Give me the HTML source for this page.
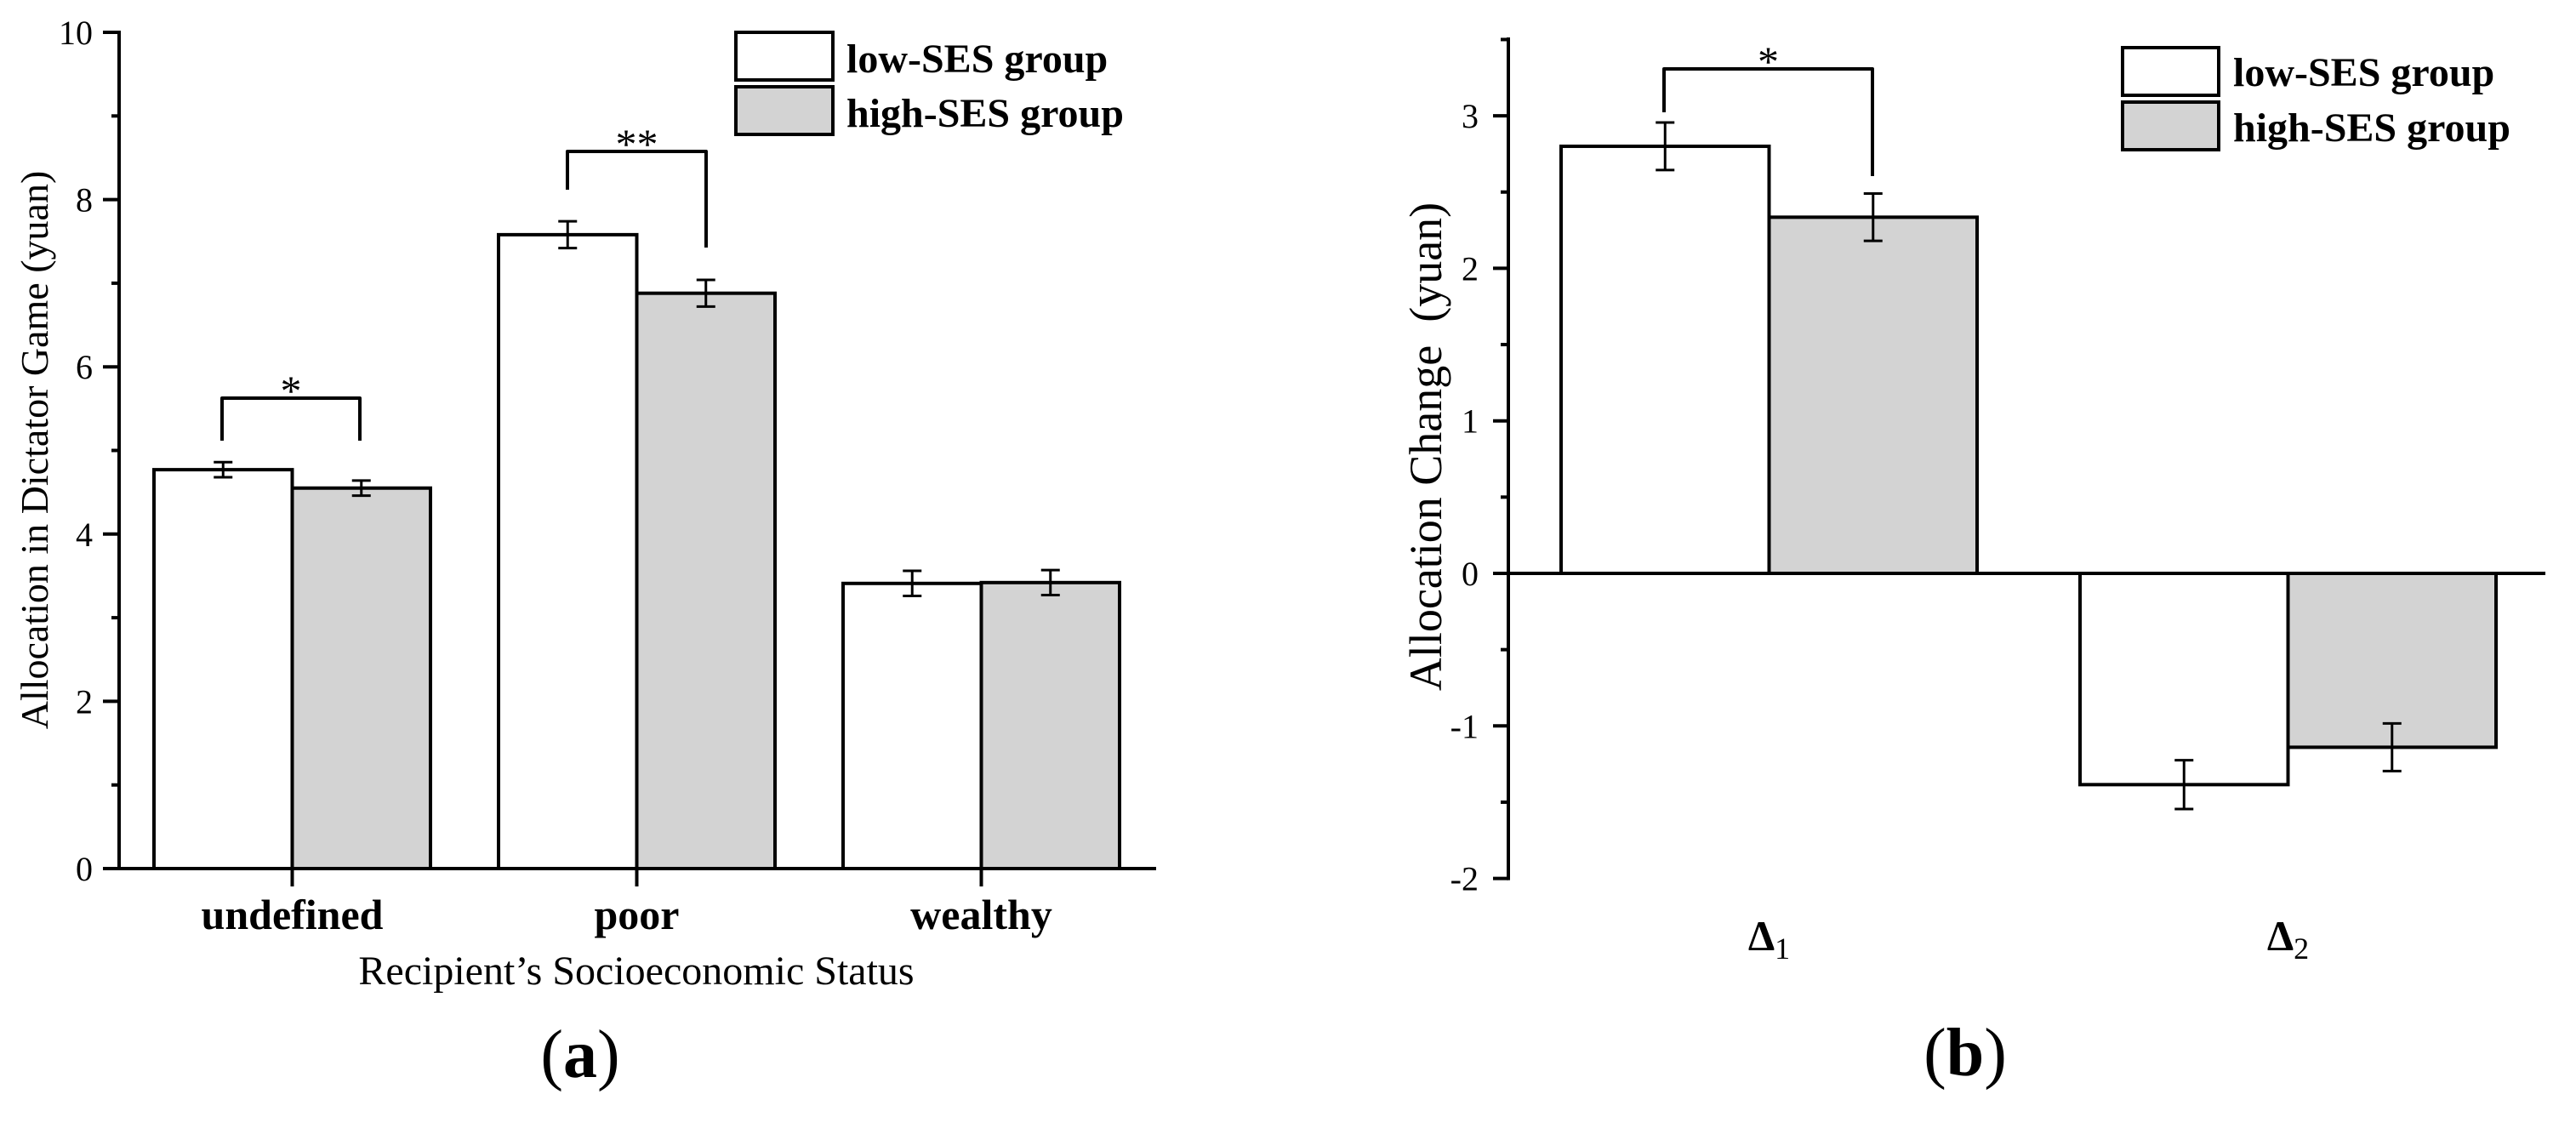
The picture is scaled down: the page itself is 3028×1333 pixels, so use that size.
<!DOCTYPE html>
<html><head><meta charset="utf-8"><style>
html,body{margin:0;padding:0;background:#fff;}
svg{display:block;font-family:"Liberation Serif",serif;}
</style></head><body>
<svg id="fig" width="3028" height="1333" viewBox="0 0 3028 1333"></svg>
<script>
// Panel (a) data
const catsA = ["undefined", "poor", "wealthy"];
const lowA = [4.77, 7.58, 3.41];
const highA = [4.55, 6.88, 3.42];
const lowErrA = [0.09, 0.16, 0.15];
const highErrA = [0.09, 0.16, 0.15];
const ticksA = [0, 2, 4, 6, 8, 10];
// Panel (b) data
const catsB = ["1", "2"];
const lowB = [2.80, -1.385];
const highB = [2.335, -1.14];
const lowErrB = [0.156, 0.16];
const highErrB = [0.155, 0.156];
const ticksB = [-2, -1, 0, 1, 2, 3];

const NS = "http://www.w3.org/2000/svg";
const svg = document.getElementById("fig");
function mk(tag, attrs, parent) {
  const e = document.createElementNS(NS, tag);
  for (const k in attrs) e.setAttribute(k, attrs[k]);
  (parent || svg).appendChild(e);
  return e;
}
function line(x1, y1, x2, y2, w, name, p) {
  const l = mk("line", {x1, y1, x2, y2, stroke: "#000", "stroke-width": w}, p);
  
  
  return l;
}
function text(x, y, s, size, weight, anchor, name, p) {
  const t = mk("text", {x, y, "font-size": size, "font-weight": weight, "text-anchor": anchor, fill: "#000"}, p);
  t.textContent = s;
  
  
  return t;
}

// ---------- Panel A ----------
const gA = mk("g", {});


const yA = v => 1021 - v * 98.3;
const groupX = i => 181 + i * 405;
const barWA = 162.5;
for (let v = 1; v < 10; v += 2) line(131, yA(v), 140, yA(v), 4, "y-minor-tick-a", gA);
ticksA.forEach(v => {
  line(121, yA(v), 140, yA(v), 4, "y-major-tick-a", gA);
  text(109, yA(v) + 14, String(v), 40, "normal", "end", "y-tick-label-a", gA);
});
catsA.forEach((c, i) => {
  const x0 = groupX(i);
  const r1 = mk("rect", {x: x0, y: yA(lowA[i]), width: barWA, height: yA(0) - yA(lowA[i]), fill: "#fff", stroke: "#000", "stroke-width": 4}, gA);
  
  
  const r2 = mk("rect", {x: x0 + barWA, y: yA(highA[i]), width: barWA, height: yA(0) - yA(highA[i]), fill: "#d3d3d3", stroke: "#000", "stroke-width": 4}, gA);
  
  
  [[x0 + barWA / 2, lowA[i], lowErrA[i]], [x0 + barWA * 1.5, highA[i], highErrA[i]]].forEach(([cx, v, e]) => {
    line(cx, yA(v + e), cx, yA(v - e), 3, "error-bar", gA);
    line(cx - 11, yA(v + e), cx + 11, yA(v + e), 3, "error-cap", gA);
    line(cx - 11, yA(v - e), cx + 11, yA(v - e), 3, "error-cap", gA);
  });
  line(x0 + barWA, yA(0), x0 + barWA, yA(0) + 21, 4, "x-tick-a", gA);
  text(x0 + barWA, 1092, c, 50, "bold", "middle", "x-category-label", gA);
});
line(140, 36, 140, 1023, 4, "y-axis-a", gA);
line(138, 1021, 1359, 1021, 4, "x-axis-a", gA);
function bracket(g, x1, x2, top, b1, b2, stars, sy, name) {
  const p = mk("path", {d: `M${x1},${b1} L${x1},${top} L${x2},${top} L${x2},${b2}`, fill: "none", stroke: "#000", "stroke-width": 4, "stroke-linejoin": "round"}, g);
  
  
  text((x1 + x2) / 2, sy, stars, 50, "normal", "middle", "significance-stars", g);
}
bracket(gA, 261, 423, 468, 518, 518, "*", 476, "bracket-undefined");
bracket(gA, 667, 830, 178, 223, 291, "**", 186, "bracket-poor");
function legend(g, x, y1, y2, w, h, tx, b1, b2) {
  const a = mk("rect", {x, y: y1, width: w, height: h, fill: "#fff", stroke: "#000", "stroke-width": 4}, g);
  
  
  const b = mk("rect", {x, y: y2, width: w, height: h, fill: "#d3d3d3", stroke: "#000", "stroke-width": 4}, g);
  
  
  text(tx, b1, "low-SES group", 48, "bold", "start", "legend-entry-low", g);
  text(tx, b2, "high-SES group", 48, "bold", "start", "legend-entry-high", g);
}
legend(gA, 865, 38, 102, 114, 56, 995, 85, 149);
const ytA = text(0, 0, "Allocation in Dictator Game (yuan)", 46, "normal", "middle", "y-axis-title-a", gA);
ytA.setAttribute("transform", "translate(56,529) rotate(-90)");
text(748, 1157, "Recipient\u2019s Socioeconomic Status", 48, "normal", "middle", "x-axis-title-a", gA);
const la = text(682, 1266, "", 80, "normal", "middle", "panel-label-a", gA);
la.innerHTML = '(<tspan font-weight="bold">a</tspan>)';

// ---------- Panel B ----------
const gB = mk("g", {});


const yB = v => 674 - v * 179.3;
const groupXB = i => 1835 + i * 610;
const barWB = 244.5;
for (let v = -1.5; v <= 3.5; v += 1) line(1764, yB(v), 1773, yB(v), 4, "y-minor-tick-b", gB);
ticksB.forEach(v => {
  line(1755, yB(v), 1773, yB(v), 4, "y-major-tick-b", gB);
  text(1738, yB(v) + 14, String(v), 40, "normal", "end", "y-tick-label-b", gB);
});
catsB.forEach((c, i) => {
  const x0 = groupXB(i);
  const v1 = lowB[i], v2 = highB[i];
  const r1 = mk("rect", {x: x0, y: Math.min(yB(v1), yB(0)), width: barWB, height: Math.abs(yB(0) - yB(v1)), fill: "#fff", stroke: "#000", "stroke-width": 4}, gB);
  
  
  const r2 = mk("rect", {x: x0 + barWB, y: Math.min(yB(v2), yB(0)), width: barWB, height: Math.abs(yB(0) - yB(v2)), fill: "#d3d3d3", stroke: "#000", "stroke-width": 4}, gB);
  
  
  [[x0 + barWB / 2, v1, lowErrB[i]], [x0 + barWB * 1.5, v2, highErrB[i]]].forEach(([cx, v, e]) => {
    line(cx, yB(v + e), cx, yB(v - e), 3, "error-bar", gB);
    line(cx - 11, yB(v + e), cx + 11, yB(v + e), 3, "error-cap", gB);
    line(cx - 11, yB(v - e), cx + 11, yB(v - e), 3, "error-cap", gB);
  });
  const t = text(x0 + barWB, 1117, "", 50, "bold", "middle", "x-category-label", gB);
  t.innerHTML = '\u0394<tspan font-weight="normal" font-size="36" dy="10">' + c + '</tspan>';
});
line(1773, 44, 1773, yB(-2) + 2, 4, "y-axis-b", gB);
line(1771, yB(0), 2992, yB(0), 4, "zero-line-b", gB);
bracket(gB, 1956, 2201, 81, 132, 207, "*", 89, "bracket-delta1");
legend(gB, 2495, 56, 120, 113, 56, 2625, 101, 166);
const ytB = text(0, 0, "Allocation Change\u00a0\u00a0(yuan)", 54, "normal", "middle", "y-axis-title-b", gB);
ytB.setAttribute("transform", "translate(1694,525) rotate(-90)");
const lb = text(2310, 1264, "", 80, "normal", "middle", "panel-label-b", gB);
lb.innerHTML = '(<tspan font-weight="bold">b</tspan>)';
</script>
</body></html>
